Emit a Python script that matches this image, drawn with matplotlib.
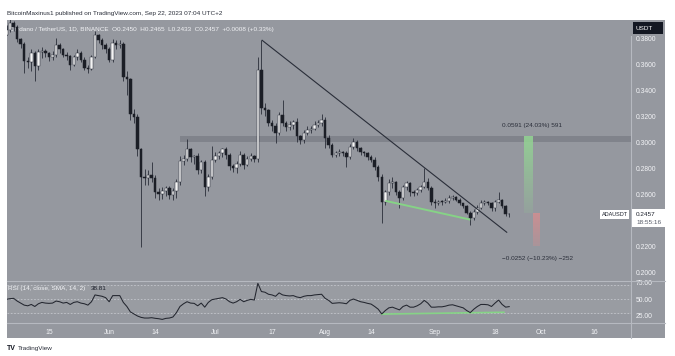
import matplotlib
matplotlib.use("Agg")
import matplotlib.pyplot as plt
import numpy as np
from matplotlib.patches import Rectangle
from matplotlib.lines import Line2D

plt.rcParams['font.family'] = ['Liberation Sans', 'DejaVu Sans']

# ---------------- data (daily candles, day 0 = 2023-05-03) ----------------
first_open = 0.383
closes = [
    0.387, 0.392, 0.389, 0.380, 0.376, 0.363, 0.362, 0.369, 0.359, 0.370,
    0.371, 0.369, 0.366, 0.368, 0.375, 0.372, 0.368, 0.367, 0.360, 0.366,
    0.369, 0.364, 0.358, 0.357, 0.366, 0.383, 0.379, 0.375, 0.372, 0.364,
    0.377, 0.375, 0.376, 0.351, 0.349, 0.322, 0.320, 0.295, 0.274, 0.273,
    0.275, 0.273, 0.262, 0.261, 0.263, 0.265, 0.260, 0.263, 0.270, 0.286,
    0.288, 0.295, 0.289, 0.290, 0.279, 0.285, 0.266, 0.274, 0.287, 0.290,
    0.292, 0.295, 0.291, 0.282, 0.281, 0.284, 0.291, 0.283, 0.288, 0.290,
    0.288, 0.356, 0.327, 0.325, 0.315, 0.313, 0.308, 0.3215, 0.315, 0.312,
    0.314, 0.316, 0.305, 0.302, 0.308, 0.310, 0.311, 0.314, 0.315, 0.318,
    0.304, 0.2985, 0.291, 0.292, 0.293, 0.292, 0.289, 0.297, 0.301, 0.296,
    0.293, 0.292, 0.289, 0.287, 0.2815, 0.274, 0.2545, 0.262, 0.269, 0.270,
    0.2625, 0.258, 0.266, 0.269, 0.262, 0.2615, 0.2635, 0.2665, 0.270, 0.2655,
    0.2545, 0.2538, 0.2547, 0.2545, 0.2555, 0.258, 0.2585, 0.2565, 0.2535, 0.2515,
    0.2465, 0.2425, 0.247, 0.250, 0.254, 0.2545, 0.2535, 0.250, 0.2545, 0.2565,
    0.2515, 0.2450, 0.2457]
highs = [
    0.391, 0.395, 0.394, 0.391, 0.381, 0.378, 0.366, 0.372, 0.371, 0.372,
    0.374, 0.372, 0.370, 0.371, 0.381, 0.377, 0.373, 0.370, 0.368, 0.368,
    0.372, 0.371, 0.366, 0.360, 0.368, 0.386, 0.384, 0.381, 0.377, 0.374,
    0.380, 0.379, 0.379, 0.378, 0.355, 0.350, 0.326, 0.322, 0.296, 0.280,
    0.279, 0.285, 0.275, 0.265, 0.266, 0.267, 0.267, 0.265, 0.272, 0.290,
    0.291, 0.303, 0.296, 0.291, 0.292, 0.287, 0.287, 0.276, 0.298, 0.293,
    0.294, 0.296, 0.297, 0.292, 0.284, 0.286, 0.294, 0.292, 0.290, 0.292,
    0.291, 0.366, 0.379, 0.331, 0.326, 0.318, 0.315, 0.324, 0.333, 0.317,
    0.317, 0.318, 0.319, 0.306, 0.310, 0.313, 0.313, 0.317, 0.318, 0.322,
    0.320, 0.306, 0.300, 0.294, 0.295, 0.294, 0.294, 0.299, 0.304, 0.302,
    0.297, 0.294, 0.293, 0.291, 0.289, 0.283, 0.276, 0.264, 0.272, 0.274,
    0.271, 0.264, 0.268, 0.271, 0.270, 0.264, 0.265, 0.268, 0.281, 0.273,
    0.267, 0.257, 0.2565, 0.2565, 0.2575, 0.260, 0.260, 0.259, 0.2575, 0.254,
    0.252, 0.248, 0.249, 0.2525, 0.2565, 0.2565, 0.255, 0.2545, 0.256, 0.2625,
    0.257, 0.2525, 0.2465]
lows = [
    0.383, 0.385, 0.386, 0.378, 0.373, 0.354, 0.358, 0.355, 0.348, 0.356,
    0.365, 0.366, 0.363, 0.364, 0.366, 0.369, 0.366, 0.364, 0.356, 0.359,
    0.364, 0.362, 0.356, 0.354, 0.356, 0.365, 0.377, 0.372, 0.369, 0.362,
    0.362, 0.372, 0.373, 0.348, 0.337, 0.318, 0.315, 0.290, 0.220, 0.268,
    0.268, 0.270, 0.258, 0.256, 0.257, 0.259, 0.257, 0.256, 0.258, 0.268,
    0.283, 0.286, 0.285, 0.284, 0.276, 0.277, 0.259, 0.263, 0.272, 0.285,
    0.288, 0.289, 0.288, 0.279, 0.278, 0.277, 0.282, 0.280, 0.282, 0.286,
    0.285, 0.285, 0.322, 0.321, 0.313, 0.309, 0.300, 0.306, 0.313, 0.309,
    0.310, 0.311, 0.301, 0.299, 0.300, 0.306, 0.308, 0.310, 0.312, 0.313,
    0.296, 0.296, 0.289, 0.289, 0.290, 0.290, 0.2815, 0.288, 0.295, 0.294,
    0.291, 0.290, 0.287, 0.285, 0.279, 0.271, 0.2385, 0.252, 0.260, 0.265,
    0.260, 0.250, 0.256, 0.264, 0.259, 0.259, 0.260, 0.262, 0.265, 0.264,
    0.252, 0.250, 0.2525, 0.2525, 0.2535, 0.254, 0.256, 0.255, 0.252, 0.250,
    0.245, 0.237, 0.241, 0.245, 0.249, 0.2525, 0.252, 0.248, 0.248, 0.2535,
    0.250, 0.2435, 0.2433]
rsi = [
    49.5, 50.5, 51, 47, 44, 41, 40, 42, 39, 43,
    45, 44, 43.6, 44, 47, 46, 44, 45, 42, 45,
    46, 44, 43, 41, 46, 56, 55, 54, 52, 46,
    55, 55, 55, 45, 39, 31, 28, 25, 23, 22,
    22, 22.5, 21.6, 21, 20, 21.5, 22, 23.5, 30, 39,
    43, 46, 44, 43.6, 40, 44, 38, 45, 49, 50,
    51, 52, 50, 46, 44, 46, 49.5, 46, 48, 49.5,
    48.5, 73, 61, 60, 57, 56, 54, 59, 56, 55,
    54.5, 55, 53, 52, 54, 55, 55, 56, 56.5, 57,
    51, 48, 43.6, 44, 44.5, 44, 43, 48, 50, 48,
    46, 45, 43.6, 42.5, 39, 35, 28, 33, 37, 38,
    36, 34, 39, 41, 38, 38, 40, 43, 48, 44,
    38, 38, 38.5, 38.5, 39.5, 41, 41.5, 40, 38.5, 37,
    33, 30, 35, 39, 42, 42, 41.5, 39, 44, 48.5,
    42, 38, 38.81]

date_tick_days = [12, 29, 42, 59, 75, 90, 103, 121, 138, 151, 166]
date_tick_labels = ["15", "Jun", "14", "Jul", "17", "Aug", "14", "Sep", "18", "Oct", "16"]
price_ticks = [0.38, 0.36, 0.34, 0.32, 0.30, 0.28, 0.26, 0.22, 0.20]
rsi_ticks = [25, 50, 75]

# drawings
trend_days = [72.2, 141.3]
trend_prices = [0.379, 0.2313]
support_days = [107, 131]
support_prices = [0.2555, 0.2410]
rsi_div_days = [106, 140.5]
rsi_div_vals = [27.8, 30.5]
band_start_day = 49
band_low, band_high = 0.3005, 0.3056
up_range = (146.2, 148.6, 0.2459, 0.3050)
down_range = (148.7, 150.6, 0.2459, 0.2207)
last_price = 0.2457

# ---------------- figure ----------------
W, H = 675, 356
fig = plt.figure(figsize=(6.75, 3.56), dpi=100)
fig.patch.set_facecolor('white')
BG = '#95989f'
TXT = '#f2f3f6'
DARK = '#1e222d'
SEP = '#b6b9c0'
FS = 4.6
XMIN, XMAX = 0.14, 176.4

def fx(px):
    return px / W

def fy(py):
    return 1 - py / H

fig.add_artist(Rectangle((fx(7), fy(338)), fx(665) - fx(7), fy(20) - fy(338),
                         transform=fig.transFigure, facecolor=BG, edgecolor='none', zorder=0))

ax = fig.add_axes([fx(7), fy(281), fx(631) - fx(7), fy(20) - fy(281)])
ax2 = fig.add_axes([fx(7), fy(323), fx(631) - fx(7), fy(281) - fy(323)])
for a in (ax, ax2):
    a.set_facecolor('none')
    for s in a.spines.values():
        s.set_visible(False)

days = np.arange(len(closes))
opens = np.array([first_open] + closes[:-1])
closes_a = np.array(closes)
up = closes_a >= opens

# resistance band (from late June to the right edge)
ax.fill_between([band_start_day, XMAX], band_low, band_high, facecolor='#7b7e86',
                edgecolor='none', alpha=0.8, zorder=1)

# candles
ax.vlines(days, lows, highs, color='#2a2e39', lw=0.6, zorder=3)
bottoms = np.minimum(opens, closes_a)
heights = np.maximum(np.abs(closes_a - opens), 0.0007)
ax.bar(days[up], heights[up], bottom=bottoms[up], width=0.7, color='#f4f4f4',
       edgecolor='#2a2e39', linewidth=0.35, zorder=4)
ax.bar(days[~up], heights[~up], bottom=bottoms[~up], width=0.7, color='#1b1e26',
       edgecolor='#1b1e26', linewidth=0.35, zorder=4)

# trend / support lines
ax.plot(trend_days, trend_prices, color='#2a2e39', lw=0.8, zorder=5)
ax.plot(support_days, support_prices, color='#86d386', lw=1.4, zorder=5, solid_capstyle='butt')

# measure ranges (gradients)
def grad_bar(a, x0, x1, p0, p1, rgb, a_start, a_end):
    n = 64
    img = np.zeros((n, 1, 4))
    img[:, 0, :3] = rgb
    lo, hi = min(p0, p1), max(p0, p1)
    al = np.linspace(a_start, a_end, n)
    if p1 < p0:
        al = al[::-1]
    img[:, 0, 3] = al
    a.imshow(img, extent=(x0, x1, lo, hi), aspect='auto', origin='lower', zorder=2,
             interpolation='bilinear')

grad_bar(ax, up_range[0], up_range[1], up_range[2], up_range[3], (0.58, 0.83, 0.58), 0.15, 0.9)
grad_bar(ax, down_range[0], down_range[1], down_range[2], down_range[3], (0.86, 0.55, 0.56), 0.75, 0.3)
ax.text((up_range[0] + down_range[1]) / 2, up_range[3] + 0.0085, "0.0591 (24.03%) 591",
        ha='center', va='center', fontsize=FS, color='#2a2e39', zorder=6)
ax.text((up_range[0] + down_range[1]) / 2 + 1.5, down_range[3] - 0.0098,
        "\u22120.0252 (\u221210.23%) \u2212252",
        ha='center', va='center', fontsize=FS, color='#2a2e39', zorder=6)

ax.set_xlim(XMIN, XMAX)
ax.set_ylim(0.1938, 0.3946)
ax.set_xticks([])
ax.yaxis.tick_right()
ax.set_yticks(price_ticks)
ax.set_yticklabels([f"{v:.4f}" for v in price_ticks])
ax.tick_params(axis='y', length=0, pad=3.2, labelsize=4.9, labelcolor=TXT)

# header inside chart
ax.text(0.004, 0.975, "Cardano / TetherUS, 1D, BINANCE  O0.2450  H0.2465  L0.2433  C0.2457  +0.0008 (+0.33%)",
        transform=ax.transAxes, ha='left', va='top', fontsize=FS, color=TXT, zorder=2)

# ---------------- RSI ----------------
ax2.axhspan(30, 70, color='white', alpha=0.04, zorder=0)
for lv in (70, 50, 30):
    ax2.axhline(lv, color='#c3c6cc', lw=0.6, ls=(0, (2, 2)), zorder=1)
ax2.plot(days, rsi, color='#23262f', lw=0.75, zorder=3)
ax2.plot(rsi_div_days, rsi_div_vals, color='#86d386', lw=1.2, zorder=2)
ax2.set_xlim(XMIN, XMAX)
ax2.set_ylim(14.7, 76.5)
ax2.yaxis.tick_right()
ax2.set_yticks(rsi_ticks)
ax2.set_yticklabels([f"{v:.2f}" for v in rsi_ticks])
ax2.tick_params(axis='y', length=0, pad=3.2, labelsize=4.9, labelcolor=TXT)
ax2.set_xticks(date_tick_days)
ax2.set_xticklabels(date_tick_labels)
ax2.tick_params(axis='x', length=0, pad=4.4, labelsize=4.9, labelcolor=TXT)
ax2.text(0.002, 0.81, "RSI (14, close, SMA, 14, 2)", transform=ax2.transAxes,
         ha='left', va='center', fontsize=FS, color=TXT)
ax2.text(0.135, 0.81, "38.81", transform=ax2.transAxes,
         ha='left', va='center', fontsize=FS, color=DARK)

# separators
fig.add_artist(Line2D([fx(7), fx(665)], [fy(281), fy(281)], transform=fig.transFigure, color=SEP, lw=0.8))
fig.add_artist(Line2D([fx(7), fx(665)], [fy(323), fy(323)], transform=fig.transFigure, color=SEP, lw=0.8))
fig.add_artist(Line2D([fx(631), fx(631)], [fy(36), fy(338)], transform=fig.transFigure, color=SEP, lw=0.8))

# USDT box
fig.add_artist(Rectangle((fx(633), fy(34)), fx(30), fy(22) - fy(34), transform=fig.transFigure,
                         facecolor='#131722', edgecolor='none'))
fig.text(fx(636), fy(28), "USDT", ha='left', va='center', fontsize=FS, color='white')

# last price labels
fig.add_artist(Rectangle((fx(600), fy(218.5)), fx(29), fy(209.5) - fy(218.5), transform=fig.transFigure,
                         facecolor='white', edgecolor='none', zorder=5))
fig.text(fx(614.5), fy(214), "ADAUSDT", ha='center', va='center', fontsize=4.0, color=DARK, zorder=6)
fig.add_artist(Rectangle((fx(632), fy(227)), fx(33), fy(209.5) - fy(227), transform=fig.transFigure,
                         facecolor='white', edgecolor='none', zorder=5))
fig.text(fx(636), fy(214), f"{last_price:.4f}", ha='left', va='center', fontsize=FS, color=DARK, zorder=6)
fig.text(fx(636), fy(222.5), "18:55:16", ha='left', va='center', fontsize=FS, color='#555a66', zorder=6)

# top and bottom texts
fig.text(fx(7), fy(13.5), "BitcoinMaxinus1 published on TradingView.com, Sep 22, 2023 07:04 UTC+2",
         ha='left', va='center', fontsize=FS, color='#2a2e39')
fig.text(fx(7), fy(348.5), "TV", ha='left', va='center', fontsize=5, color='#131722', fontweight='bold')
fig.text(fx(18), fy(348.5), "TradingView", ha='left', va='center', fontsize=FS, color='#2a2e39')

fig.savefig("out.png", dpi=100, facecolor='white')
